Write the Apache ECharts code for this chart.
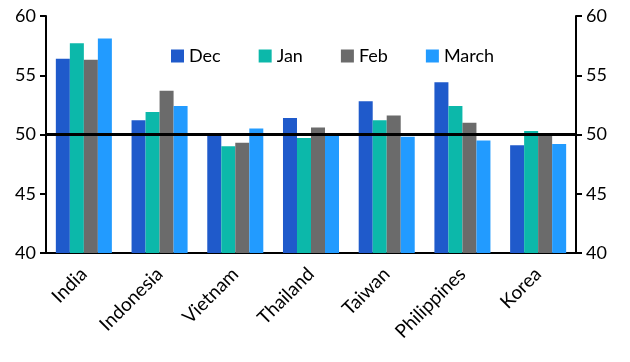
<!DOCTYPE html>
<html><head><meta charset="utf-8">
<script src="https://cdn.jsdelivr.net/npm/echarts@6/dist/echarts.min.js"></script>
<style>html,body{margin:0;padding:0;background:#fff}#c{width:630px;height:362px}</style>
</head><body><div id="c"></div>
<script>
const categories = ['India','Indonesia','Vietnam','Thailand','Taiwan','Philippines','Korea'];
const dec   = [56.4, 51.2, 49.9, 51.4, 52.8, 54.4, 49.1];
const jan   = [57.7, 51.9, 49.0, 49.7, 51.2, 52.4, 50.3];
const feb   = [56.3, 53.7, 49.3, 50.6, 51.6, 51.0, 50.0];
const march = [58.1, 52.4, 50.5, 49.9, 49.8, 49.5, 49.2];
const seriesNames = ['Dec','Jan','Feb','March'];
const colors = ['#1f5acb','#0cb8aa','#6b6b6b','#229bff'];
const font = 'Lato';
const chart = echarts.init(document.getElementById('c'));
const yAx = (pos) => ({
  type:'value', min:40, max:60, interval:5, position:pos,
  axisLine:{show:true, lineStyle:{color:'#000', width:2}},
  axisTick:{show:true, length:6, lineStyle:{color:'#000', width:2}},
  axisLabel:{color:'#000', fontSize:18, fontFamily:font, margin:10},
  splitLine:{show:false}
});
const datas = [dec, jan, feb, march];
chart.setOption({
  animation:false,
  color: colors,
  grid:{left:46, right:54, top:16, bottom:109},
  legend:{
    top:42, left:166, itemWidth:13, itemHeight:13, itemGap:38,
    textStyle:{fontSize:18, fontFamily:font, color:'#000'},
    data: seriesNames.map(n=>({name:n, icon:'rect'}))
  },
  xAxis:{
    type:'category', data:categories,
    axisLine:{lineStyle:{color:'#000', width:2}},
    axisTick:{show:false},
    axisLabel:{color:'#000', fontSize:19, fontFamily:font, rotate:45, margin:18, interval:0}
  },
  yAxis:[yAx('left'), yAx('right')],
  series: seriesNames.map((n,i)=>({
    name:n, type:'bar', data:datas[i], barGap:'0%', barCategoryGap:'26%',
    itemStyle:{color:colors[i]},
    markLine: i===3 ? {symbol:'none', silent:true, label:{show:false},
      lineStyle:{color:'#000', width:3, type:'solid'}, data:[{yAxis:50}]} : undefined
  }))
});
</script></body></html>
